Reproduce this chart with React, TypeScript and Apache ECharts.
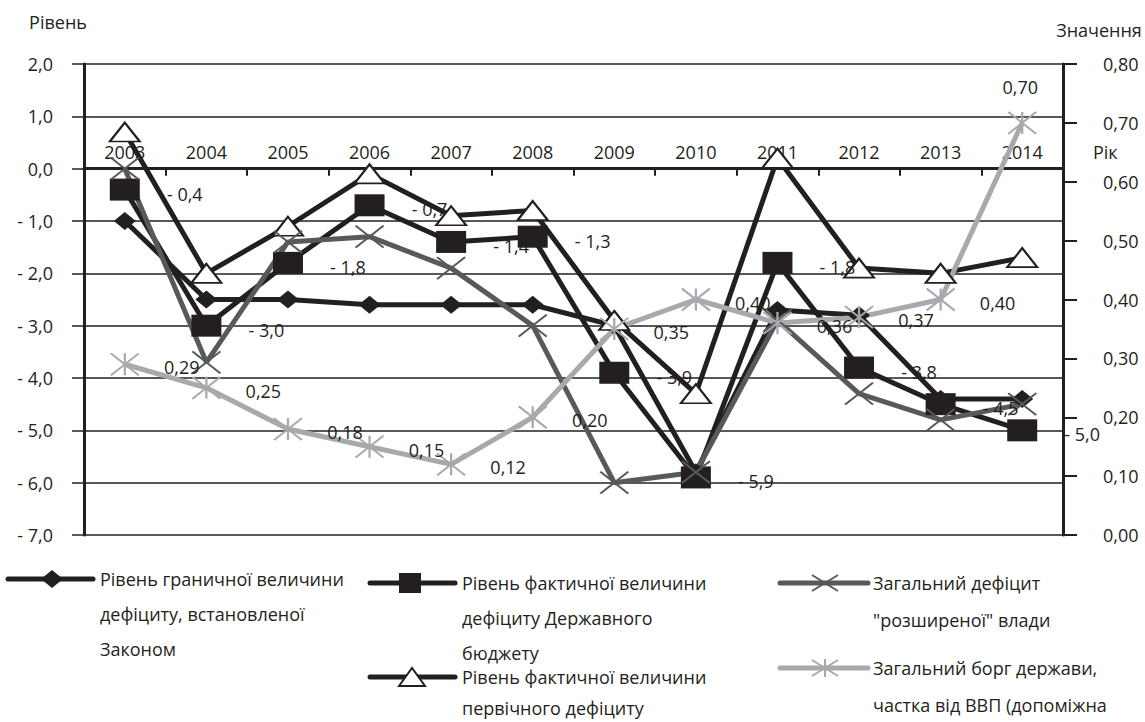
import React, { useEffect, useRef } from 'react';
import * as echarts from 'echarts';

// Years on the category axis
const years = ['2003', '2004', '2005', '2006', '2007', '2008', '2009', '2010', '2011', '2012', '2013', '2014'];

// Left axis: deficit levels, % of GDP
const limitDeficit = [-1.0, -2.5, -2.5, -2.6, -2.6, -2.6, -3.0, -5.8, -2.7, -2.8, -4.4, -4.4];
const actualDeficit = [-0.4, -3.0, -1.8, -0.7, -1.4, -1.3, -3.9, -5.9, -1.8, -3.8, -4.5, -5.0];
const primaryDeficit = [0.7, -2.0, -1.1, -0.1, -0.9, -0.8, -2.9, -4.3, 0.2, -1.9, -2.0, -1.7];
const generalDeficit = [0.0, -3.7, -1.4, -1.3, -1.9, -3.0, -6.0, -5.8, -2.9, -4.3, -4.8, -4.5];

// Right axis: public debt as a share of GDP
const publicDebt = [0.29, 0.25, 0.18, 0.15, 0.12, 0.2, 0.35, 0.4, 0.36, 0.37, 0.4, 0.7];

// Axis ranges
const LEFT_MIN = -7;
const LEFT_MAX = 2;
const RIGHT_MIN = 0;
const RIGHT_MAX = 0.8;

// Axis titles
const leftAxisName = 'Рівень';
const rightAxisName = 'Значення';
const categoryAxisName = 'Рік';

// Legend captions, split into their printed lines
const limitCaption = ['Рівень граничної величини', 'дефіциту, встановленої', 'Законом'];
const actualCaption = ['Рівень фактичної величини', 'дефіциту Державного', 'бюджету'];
const primaryCaption = ['Рівень фактичної величини', 'первічного дефіциту'];
const generalCaption = ['Загальний дефіцит', '"розширеної" влади'];
const debtCaption = ['Загальний борг держави,', 'частка від ВВП (допоміжна'];

const INK = '#231f20';
const DARK = '#58595b';
const LIGHT = '#a7a9ac';
const FONT = '"Open Sans", "Noto Sans", sans-serif';
const FS = 18;

// Plot box
const W = 1145;
const H = 722;
const G_LEFT = 84;
const G_RIGHT = 82;
const G_TOP = 64;
const G_BOTTOM = 187;

const CROSS = 'path://M0 0L10 8M10 0L0 8';
const STAR = 'path://M0 0L10 8M10 0L0 8M5 0L5 8';

const fmtLevel = (v: number) => (v < 0 ? '- ' : '') + Math.abs(v).toFixed(1).replace('.', ',');
const fmtShare = (v: number) => v.toFixed(2).replace('.', ',');

type LegendKind = 'diamond' | 'square' | 'triangle' | 'cross' | 'star';

function legendItem(kind: LegendKind, x1: number, x2: number, y: number, mx: number,
  lines: string[], tx: number, lineHeight: number, color: string): any[] {
  const els: any[] = [
    { type: 'line', shape: { x1, y1: y, x2, y2: y }, style: { stroke: color, lineWidth: 5, lineCap: 'round' } },
  ];
  if (kind === 'diamond') {
    els.push({ type: 'polygon', shape: { points: [[mx - 11, y], [mx, y - 9], [mx + 11, y], [mx, y + 9]] }, style: { fill: INK } });
  } else if (kind === 'square') {
    els.push({ type: 'rect', shape: { x: mx - 11, y: y - 10, width: 22, height: 20 }, style: { fill: INK } });
  } else if (kind === 'triangle') {
    els.push({ type: 'polygon', shape: { points: [[mx - 13, y + 9], [mx, y - 9], [mx + 13, y + 9]] }, style: { fill: '#fff', stroke: INK, lineWidth: 2 } });
  } else {
    const st = { stroke: color, lineWidth: 2 };
    els.push({ type: 'line', shape: { x1: mx - 13, y1: y - 8, x2: mx + 13, y2: y + 8 }, style: st });
    els.push({ type: 'line', shape: { x1: mx - 13, y1: y + 8, x2: mx + 13, y2: y - 8 }, style: st });
    if (kind === 'star') {
      els.push({ type: 'line', shape: { x1: mx, y1: y - 9, x2: mx, y2: y + 9 }, style: st });
    }
  }
  els.push({
    type: 'text',
    x: tx,
    y: y - lineHeight / 2,
    style: {
      text: lines.join('\n'),
      font: `${FS}px ${FONT}`,
      fill: INK,
      lineHeight,
      verticalAlign: 'top',
      align: 'left',
    },
  });
  return els;
}

function axisTitle(text: string, x: number, y: number, align: string): any {
  return {
    type: 'text',
    x,
    y,
    style: { text, font: `${FS}px ${FONT}`, fill: INK, align, verticalAlign: 'middle' },
  };
}

export default function App() {
  const ref = useRef<HTMLDivElement>(null);

  useEffect(() => {
    if (!ref.current) return;
    const chart = echarts.init(ref.current, undefined, { renderer: 'svg' });

    const plotH = H - G_TOP - G_BOTTOM;
    // the category axis sits on the zero level of the left axis
    const zeroFromBottom = (plotH * (0 - LEFT_MIN)) / (LEFT_MAX - LEFT_MIN);
    const zeroY = H - G_BOTTOM - zeroFromBottom;

    const labelBase = {
      show: true,
      position: 'inside' as const,
      color: INK,
      fontSize: FS,
      fontFamily: FONT,
      textBorderWidth: 0,
    };

    const option: any = {
      animation: false,
      textStyle: { fontFamily: FONT, color: INK },
      grid: {
        left: G_LEFT,
        right: G_RIGHT,
        top: G_TOP,
        bottom: G_BOTTOM,
        containLabel: false,
        outerBoundsMode: 'none',
      },
      xAxis: {
        type: 'category',
        data: years,
        boundaryGap: true,
        position: 'bottom',
        offset: -zeroFromBottom,
        axisLine: { show: true, onZero: false, lineStyle: { color: INK, width: 3 } },
        axisTick: { show: true, inside: false, length: 7, lineStyle: { color: INK, width: 2 } },
        axisLabel: { inside: true, margin: 8, fontSize: FS, color: INK },
        splitLine: { show: false },
      },
      yAxis: [
        {
          type: 'value',
          min: LEFT_MIN,
          max: LEFT_MAX,
          interval: 1,
          position: 'left',
          axisLine: { show: true, onZero: false, lineStyle: { color: INK, width: 3 } },
          axisTick: { show: true, inside: false, length: 12, lineStyle: { color: INK, width: 1.5 } },
          axisLabel: { margin: 31, fontSize: FS, color: INK, formatter: (v: number) => fmtLevel(v) },
          splitLine: { show: true, lineStyle: { color: INK, width: 1.5 } },
        },
        {
          type: 'value',
          min: RIGHT_MIN,
          max: RIGHT_MAX,
          interval: 0.1,
          position: 'right',
          axisLine: { show: true, onZero: false, lineStyle: { color: INK, width: 3 } },
          axisTick: { show: true, inside: false, length: 14, lineStyle: { color: INK, width: 2 } },
          axisLabel: { margin: 40, fontSize: FS, color: INK, formatter: (v: number) => fmtShare(v) },
          splitLine: { show: false },
        },
      ],
      series: [
        {
          name: limitCaption.join(' '),
          type: 'line',
          yAxisIndex: 0,
          data: limitDeficit,
          symbol: 'diamond',
          symbolSize: [22, 18],
          lineStyle: { color: INK, width: 5 },
          itemStyle: { color: INK },
          emphasis: { disabled: true },
        },
        {
          name: actualCaption.join(' '),
          type: 'line',
          yAxisIndex: 0,
          data: actualDeficit,
          symbol: 'rect',
          symbolSize: [30, 22],
          lineStyle: { color: INK, width: 5 },
          itemStyle: { color: INK },
          label: { ...labelBase, offset: [60, 4], formatter: (p: any) => fmtLevel(p.value) },
          emphasis: { disabled: true },
        },
        {
          name: primaryCaption.join(' '),
          type: 'line',
          yAxisIndex: 0,
          data: primaryDeficit,
          symbol: 'triangle',
          symbolSize: [30, 19],
          lineStyle: { color: INK, width: 5 },
          itemStyle: { color: '#fff', borderColor: INK, borderWidth: 2 },
          emphasis: { disabled: true },
        },
        {
          name: generalCaption.join(' '),
          type: 'line',
          yAxisIndex: 0,
          data: generalDeficit,
          symbol: CROSS,
          symbolSize: [28, 22],
          lineStyle: { color: DARK, width: 5 },
          itemStyle: { color: DARK, borderColor: DARK, borderWidth: 2 },
          emphasis: { disabled: true },
        },
        {
          name: debtCaption.join(' '),
          type: 'line',
          yAxisIndex: 1,
          data: publicDebt.map((v, i) =>
            i === publicDebt.length - 1 ? { value: v, label: { offset: [-2, -36] } } : v
          ),
          symbol: STAR,
          symbolSize: [28, 22],
          lineStyle: { color: LIGHT, width: 5 },
          itemStyle: { color: LIGHT, borderColor: LIGHT, borderWidth: 2 },
          label: { ...labelBase, offset: [57, 3], formatter: (p: any) => fmtShare(p.value) },
          emphasis: { disabled: true },
        },
      ],
      graphic: [
        axisTitle(leftAxisName, 58, 22, 'center'),
        axisTitle(rightAxisName, 1099, 30, 'center'),
        axisTitle(categoryAxisName, W - G_RIGHT + 30, zeroY - 17, 'left'),
        ...legendItem('diamond', 8, 93, 579, 52, limitCaption, 100, 35, INK),
        ...legendItem('square', 370, 455, 583, 410, actualCaption, 462, 35, INK),
        ...legendItem('triangle', 370, 455, 677, 412, primaryCaption, 462, 31, INK),
        ...legendItem('cross', 780, 868, 583, 825, generalCaption, 873, 37, DARK),
        ...legendItem('star', 780, 868, 668, 825, debtCaption, 873, 37, LIGHT),
      ],
    };

    chart.setOption(option);
    return () => chart.dispose();
  }, []);

  return (
    <div
      ref={ref}
      style={{ position: 'absolute', left: 0, top: 0, width: W, height: H, background: '#fff' }}
    />
  );
}
